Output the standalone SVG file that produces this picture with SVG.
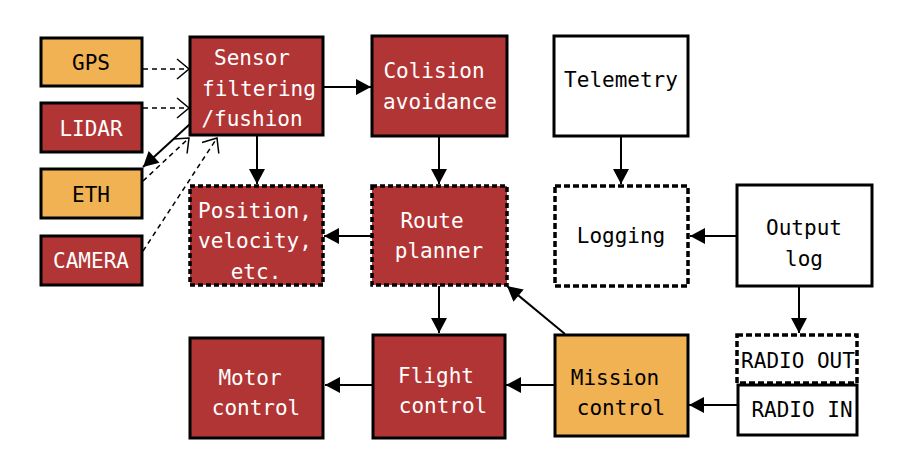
<svg xmlns="http://www.w3.org/2000/svg" width="920" height="460" viewBox="0 0 920 460">
<style>
.box{stroke:#000;stroke-width:3}
.red{fill:#b23535}
.org{fill:#f0b252}
.wht{fill:#fff}
.dsh{stroke-dasharray:5,3;stroke-width:3.5}
.dsh2{stroke-dasharray:6,3;stroke-width:3.5}
text{font-family:"DejaVu Sans Mono","Liberation Mono",monospace;font-size:21px;text-anchor:middle}
.lw{fill:#fff}
.lb{fill:#000}
.c{stroke:#000;stroke-width:2;fill:none}
.d{stroke:#000;stroke-width:1.5;fill:none;stroke-dasharray:5,4}
</style>
<defs>
<marker id="fa" markerUnits="userSpaceOnUse" markerWidth="16" markerHeight="16" refX="15" refY="8" orient="auto" overflow="visible">
<path d="M0,0 L15,8 L0,16 z" fill="#000"/>
</marker>
<marker id="oa" markerUnits="userSpaceOnUse" markerWidth="14" markerHeight="22" refX="12" refY="10" orient="auto" overflow="visible">
<path d="M0,0 L12,10 L0,20" fill="none" stroke="#000" stroke-width="1.5"/>
</marker>
</defs>
<rect width="920" height="460" fill="#fff"/>
<g id="connectors">
<line class="d" x1="143" y1="69" x2="189" y2="69" marker-end="url(#oa)"/>
<line class="d" x1="143" y1="108" x2="189" y2="108" marker-end="url(#oa)"/>
<line class="c" x1="190" y1="124" x2="143" y2="167" marker-end="url(#fa)"/>
<line class="d" x1="143" y1="181" x2="189" y2="138" marker-end="url(#oa)"/>
<line class="d" x1="143" y1="251" x2="217" y2="138" marker-end="url(#oa)"/>
<line class="c" x1="323" y1="87" x2="371" y2="87" marker-end="url(#fa)"/>
<line class="c" x1="257" y1="136" x2="257" y2="184" marker-end="url(#fa)"/>
<line class="c" x1="439" y1="136" x2="439" y2="184" marker-end="url(#fa)"/>
<line class="c" x1="372" y1="236" x2="324" y2="236" marker-end="url(#fa)"/>
<line class="c" x1="621" y1="136" x2="621" y2="184" marker-end="url(#fa)"/>
<line class="c" x1="737" y1="236" x2="690" y2="236" marker-end="url(#fa)"/>
<line class="c" x1="799" y1="286" x2="799" y2="333" marker-end="url(#fa)"/>
<line class="c" x1="439" y1="286" x2="439" y2="333" marker-end="url(#fa)"/>
<line class="c" x1="565" y1="334" x2="507" y2="286" stroke-width="1.5" marker-end="url(#fa)"/>
<line class="c" x1="554" y1="385" x2="506" y2="385" marker-end="url(#fa)"/>
<line class="c" x1="372" y1="385" x2="325" y2="385" marker-end="url(#fa)"/>
<line class="c" x1="737" y1="405" x2="689" y2="405" marker-end="url(#fa)"/>
</g>
<g id="gps"><rect class="box org" x="41" y="38" width="101" height="48"/><text class="lb" x="91" y="70">GPS</text></g>
<g id="lidar"><rect class="box red" x="41" y="103" width="101" height="49"/><text class="lw" x="91" y="136">LIDAR</text></g>
<g id="eth"><rect class="box org" x="41" y="169" width="101" height="49"/><text class="lb" x="91" y="202">ETH</text></g>
<g id="camera"><rect class="box red" x="41" y="236" width="101" height="49"/><text class="lw" x="91" y="268">CAMERA</text></g>
<g id="sensor"><rect class="box red" x="190" y="37" width="133" height="98"/>
<text class="lw" x="252" y="65">Sensor</text><text class="lw" x="259" y="96">filtering</text><text class="lw" x="252" y="126">/fushion</text></g>
<g id="position"><rect class="box red dsh" x="190" y="186" width="133" height="99"/>
<text class="lw" x="255" y="218">Position,</text><text class="lw" x="255" y="248">velocity,</text><text class="lw" x="256" y="279">etc.</text></g>
<g id="colision"><rect class="box red" x="372" y="36" width="135" height="100"/>
<text class="lw" x="434" y="78">Colision</text><text class="lw" x="440" y="109">avoidance</text></g>
<g id="route"><rect class="box red dsh" x="372" y="186" width="135" height="99"/>
<text class="lw" x="432" y="228">Route</text><text class="lw" x="439" y="258">planner</text></g>
<g id="telemetry"><rect class="box wht" x="554" y="36" width="134" height="100"/>
<text class="lb" x="621" y="87">Telemetry</text></g>
<g id="logging"><rect class="box wht dsh2" x="555" y="186" width="133" height="100"/>
<text class="lb" x="621" y="243">Logging</text></g>
<g id="outputlog"><rect class="box wht" x="737" y="185" width="135" height="101"/>
<text class="lb" x="804" y="235">Output</text><text class="lb" x="804" y="266">log</text></g>
<g id="radioout"><rect class="box wht dsh2" x="737" y="335" width="120" height="48"/>
<text class="lb" x="798" y="368">RADIO OUT</text></g>
<g id="radioin"><rect class="box wht" x="738" y="385" width="119" height="50"/>
<text class="lb" x="802" y="417">RADIO IN</text></g>
<g id="mission"><rect class="box org" x="555" y="335" width="133" height="101"/>
<text class="lb" x="615" y="385">Mission</text><text class="lb" x="621" y="415">control</text></g>
<g id="flight"><rect class="box red" x="373" y="335" width="132" height="103"/>
<text class="lw" x="436" y="383">Flight</text><text class="lw" x="443" y="413">control</text></g>
<g id="motor"><rect class="box red" x="190" y="338" width="133" height="100"/>
<text class="lw" x="250" y="385">Motor</text><text class="lw" x="256" y="415">control</text></g>
</svg>
